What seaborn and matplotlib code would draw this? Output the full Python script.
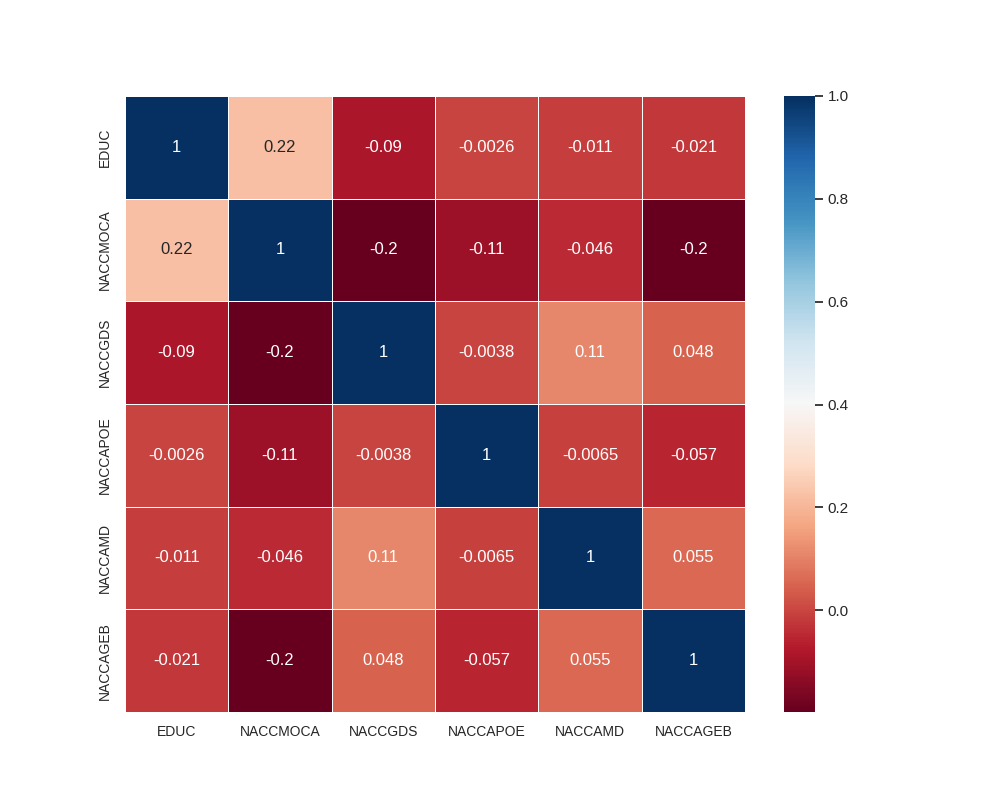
import numpy as np
import pandas as pd
import matplotlib
matplotlib.use("Agg")
import matplotlib.pyplot as plt
import seaborn as sns

sns.set()
plt.rcParams['font.family'] = ['Liberation Sans', 'DejaVu Sans']

cols = ['EDUC', 'NACCMOCA', 'NACCGDS', 'NACCAPOE', 'NACCAMD', 'NACCAGEB']

# correlation rows (the -0.2 cells sit just above -0.2)
educ     = [1, 0.22, -0.09, -0.0026, -0.011, -0.021]
naccmoca = [0.22, 1, -0.196, -0.11, -0.046, -0.198]
naccgds  = [-0.09, -0.196, 1, -0.0038, 0.11, 0.048]
naccapoe = [-0.0026, -0.11, -0.0038, 1, -0.0065, -0.057]
naccamd  = [-0.011, -0.046, 0.11, -0.0065, 1, 0.055]
naccageb = [-0.021, -0.198, 0.048, -0.057, 0.055, 1]

corr = pd.DataFrame([educ, naccmoca, naccgds, naccapoe, naccamd, naccageb],
                    index=cols, columns=cols)

fig, ax = plt.subplots(figsize=(10, 8), dpi=100)
sns.heatmap(corr, annot=True, cmap='RdBu', linewidths=0.5, ax=ax)
ax.tick_params(axis='both', labelsize=10)
fig.savefig('out.png')
